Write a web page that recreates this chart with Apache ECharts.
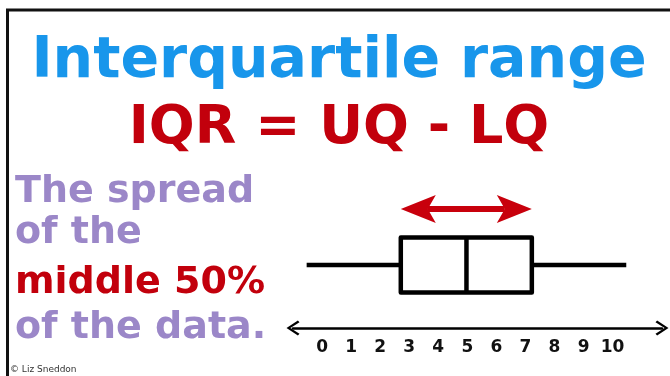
<!DOCTYPE html>
<html>
<head>
<meta charset="utf-8">
<script src="https://cdn.jsdelivr.net/npm/echarts@6/dist/echarts.min.js"></script>
<style>
	html, body { margin: 0; padding: 0; background: #fff; }
	#main { width: 670px; height: 376px; }
</style>
</head>
<body>
<div id="main"></div>
<script>
// data
var boxCategories = ["data"];
// min, Q1, median, Q3, max
var boxStats = [[-0.53, 2.71, 4.97, 7.22, 10.47]];
var tickValues = [0, 1, 2, 3, 4, 5, 6, 7, 8, 9, 10];
var axisMin = -1;
var axisMax = 11.7;

var titleText = "Interquartile range";
var formulaText = "IQR = UQ - LQ";
var sideLines = ["The spread", "of the", "middle 50%", "of the data."];
var sideColors = ["#9b87c8", "#9b87c8", "#c2000c", "#9b87c8"];

var chevron = "path://M7,0 L14,10.5 L12.4,12 L7,3.6 L1.6,12 L0,10.5 Z";

var myChart = echarts.init(document.querySelector("#main"));

function renderBox(params, api) {
	var y = api.coord([0, api.value(5)])[1];
	var xMin = api.coord([api.value(0), 0])[0];
	var xQ1 = api.coord([api.value(1), 0])[0];
	var xMed = api.coord([api.value(2), 0])[0];
	var xQ3 = api.coord([api.value(3), 0])[0];
	var xMax = api.coord([api.value(4), 0])[0];
	var half = 27.5;
	var lw = 4.5;
	var ay = y - 56; // red arrow sits above the box
	var head = 35, barb = 27, hh = 14;
	var red = "#c8000c";
	var black = { stroke: "#000", lineWidth: lw, lineCap: "butt" };
	return {
		type: "group",
		children: [
			{ type: "line", shape: { x1: xMin, y1: y, x2: xQ1, y2: y }, style: black },
			{ type: "line", shape: { x1: xQ3, y1: y, x2: xMax, y2: y }, style: black },
			{ type: "rect", shape: { x: xQ1, y: y - half, width: xQ3 - xQ1, height: half * 2 },
				style: { fill: "#fff", stroke: "#000", lineWidth: lw, lineJoin: "round" } },
			{ type: "line", shape: { x1: xMed, y1: y - half, x2: xMed, y2: y + half }, style: black },
			{ type: "line", shape: { x1: xQ1 + barb, y1: ay, x2: xQ3 - barb, y2: ay },
				style: { stroke: red, lineWidth: 6 } },
			{ type: "polygon", shape: { points: [[xQ1, ay], [xQ1 + head, ay - hh], [xQ1 + barb, ay], [xQ1 + head, ay + hh]] },
				style: { fill: red } },
			{ type: "polygon", shape: { points: [[xQ3, ay], [xQ3 - head, ay - hh], [xQ3 - barb, ay], [xQ3 - head, ay + hh]] },
				style: { fill: red } }
		]
	};
}

var sideTexts = [];
var sideY = [192, 233, 283, 328];
for (var i = 0; i < sideLines.length; i++) {
	sideTexts.push({
		type: "text",
		x: 15,
		y: sideY[i],
		style: {
			text: sideLines[i],
			fill: sideColors[i],
			fontFamily: "DejaVu Sans",
			fontWeight: "bold",
			fontSize: 38,
			align: "left",
			verticalAlign: "middle"
		}
	});
}

var option = {
	animation: false,
	backgroundColor: "#fff",
	grid: { left: 293, right: 8, top: 202, bottom: 48 },
	xAxis: {
		type: "value",
		min: axisMin,
		max: axisMax,
		axisLine: {
			show: true,
			symbol: [chevron, chevron],
			symbolSize: [16, 13],
			lineStyle: { color: "#000", width: 2.5 }
		},
		axisTick: { show: false },
		splitLine: { show: false },
		axisLabel: {
			customValues: tickValues,
			margin: 11,
			color: "#111",
			fontFamily: "DejaVu Sans",
			fontWeight: "bold",
			fontSize: 17
		}
	},
	yAxis: {
		type: "category",
		data: boxCategories,
		show: false
	},
	series: [{
		type: "custom",
		clip: false,
		renderItem: renderBox,
		data: boxStats.map(function (d, i) { return d.concat([i]); })
	}],
	graphic: [
		{ type: "polyline", shape: { points: [[7.5, 376], [7.5, 10], [670, 10]] },
			style: { stroke: "#111", lineWidth: 3, fill: null } },
		{ type: "text", x: 339, y: 62,
			style: { text: titleText, fill: "#1896eb", fontFamily: "DejaVu Sans", fontWeight: "bold",
				fontSize: 57, align: "center", verticalAlign: "middle" } },
		{ type: "text", x: 339, y: 129,
			style: { text: formulaText, fill: "#c2000c", fontFamily: "DejaVu Sans", fontWeight: "bold",
				fontSize: 54, align: "center", verticalAlign: "middle" } },
		{ type: "text", x: 10, y: 370,
			style: { text: "© Liz Sneddon", fill: "#333", fontFamily: "DejaVu Sans", fontSize: 9,
				align: "left", verticalAlign: "middle" } }
	].concat(sideTexts)
};

myChart.setOption(option);
</script>
</body>
</html>
